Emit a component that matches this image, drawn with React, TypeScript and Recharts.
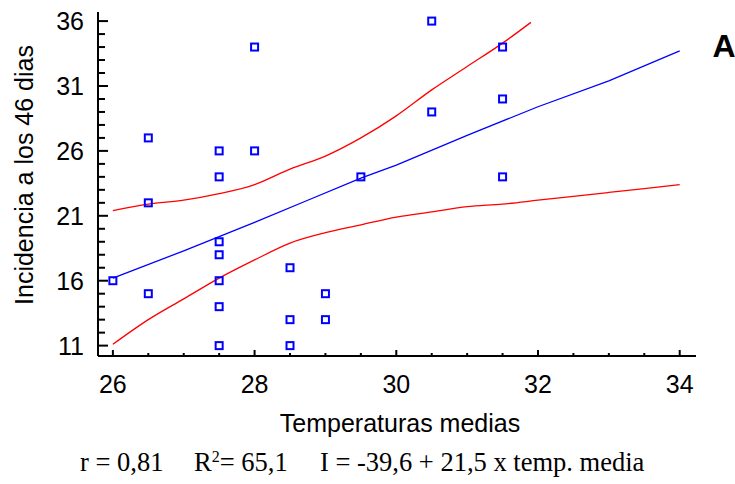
import React from 'react';
import { ComposedChart, XAxis, YAxis, Scatter, Line } from 'recharts';

// observed points: temperatura media vs incidencia a los 46 dias
const tempObs = [26, 26.5, 26.5, 26.5, 27.5, 27.5, 27.5, 27.5, 27.5, 27.5, 27.5, 28, 28, 28.5, 28.5, 28.5, 29, 29, 29.5, 30.5, 30.5, 31.5, 31.5, 31.5];
const incidObs = [16, 27, 22, 15, 26, 24, 19, 18, 16, 14, 11, 34, 26, 17, 13, 11, 15, 13, 24, 36, 29, 34, 30, 24];

// fitted line (blue)
const fitX = [26, 27, 27.5, 28, 28.75, 29.5, 30, 31, 32, 33, 34];
const fitY = [16.2, 18.3, 19.4, 20.5, 22.2, 23.9, 24.9, 27.2, 29.4, 31.4, 33.7];

// confidence limits (red)
const upperX = [26, 26.5, 27, 27.5, 28, 28.5, 29, 29.5, 30, 30.5, 31, 31.5, 31.9];
const upperY = [21.4, 21.9, 22.2, 22.7, 23.4, 24.6, 25.6, 27.0, 28.7, 30.7, 32.5, 34.3, 35.9];
const lowerX = [26, 26.5, 27, 27.5, 28, 28.5, 29, 29.5, 30, 30.5, 31, 31.5, 32, 32.5, 33, 33.5, 34];
const lowerY = [11.1, 13.0, 14.6, 16.2, 17.6, 18.9, 19.7, 20.3, 20.9, 21.3, 21.7, 21.9, 22.2, 22.5, 22.8, 23.1, 23.4];

const xTicks = [26, 26.5, 27, 27.5, 28, 28.5, 29, 29.5, 30, 30.5, 31, 31.5, 32, 32.5, 33, 33.5, 34];
const xLabels = [26, 28, 30, 32, 34];
const yTicks = [11, 12, 13, 14, 15, 16, 17, 18, 19, 20, 21, 22, 23, 24, 25, 26, 27, 28, 29, 30, 31, 32, 33, 34, 35, 36];
const yLabels = [11, 16, 21, 26, 31, 36];

const zip = (xs: number[], ys: number[]) => xs.map((x, i) => ({ x, y: ys[i] }));

const sans = '"Liberation Sans", Arial, sans-serif';
const serif = '"Liberation Serif", "Times New Roman", serif';

const YTick = (props: any) => {
  const { x, y, payload } = props;
  const major = yLabels.includes(payload.value);
  return (
    <g>
      <line x1={x} x2={x + (major ? 10 : 7)} y1={y} y2={y} stroke="#000" strokeWidth={2} />
      {major && (
        <text x={x - 14} y={y + 9} textAnchor="end" fontFamily={sans} fontSize={25} fill="#000">
          {payload.value}
        </text>
      )}
    </g>
  );
};

const XTick = (props: any) => {
  const { x, y, payload } = props;
  const major = xLabels.includes(payload.value);
  return (
    <g>
      <line x1={x} x2={x} y1={y} y2={y - (major ? 6 : 3)} stroke="#000" strokeWidth={2} />
      {major && (
        <text x={x} y={y + 37} textAnchor="middle" fontFamily={sans} fontSize={25} fill="#000">
          {payload.value}
        </text>
      )}
    </g>
  );
};

const Square = (props: any) => (
  <rect x={props.cx - 3.5} y={props.cy - 3.5} width={7} height={7} fill="none" stroke="#0000ff" strokeWidth={2} />
);

export default function App() {
  return (
    <div style={{ position: 'absolute', left: 0, top: 0, width: 735, height: 484, background: '#fff' }}>
      <ComposedChart width={735} height={484} margin={{ top: 12, right: 39, bottom: 0, left: 0 }}>
        <XAxis
          type="number"
          dataKey="x"
          domain={[25.79, 34.23]}
          ticks={xTicks}
          interval={0}
          allowDataOverflow
          height={128}
          tickSize={0}
          tickMargin={0}
          tickLine={false}
          tick={<XTick />}
          axisLine={{ stroke: '#000', strokeWidth: 2 }}
        />
        <YAxis
          type="number"
          dataKey="y"
          domain={[10.2, 36.7]}
          ticks={yTicks}
          interval={0}
          allowDataOverflow
          width={98}
          tickSize={0}
          tickMargin={0}
          tickLine={false}
          tick={<YTick />}
          axisLine={{ stroke: '#000', strokeWidth: 2 }}
        />
        <Line data={zip(upperX, upperY)} dataKey="y" type="monotone" stroke="#ff0000" strokeWidth={1.3} dot={false} isAnimationActive={false} />
        <Line data={zip(lowerX, lowerY)} dataKey="y" type="monotone" stroke="#ff0000" strokeWidth={1.3} dot={false} isAnimationActive={false} />
        <Line data={zip(fitX, fitY)} dataKey="y" type="linear" stroke="#0000ff" strokeWidth={1.3} dot={false} isAnimationActive={false} />
        <Scatter data={zip(tempObs, incidObs)} dataKey="y" shape={<Square />} isAnimationActive={false} />
      </ComposedChart>
      <svg width={735} height={484} style={{ position: 'absolute', left: 0, top: 0, pointerEvents: 'none' }}>
        <text x={33} y={175} transform="rotate(-90 33 175)" textAnchor="middle" fontFamily={sans} fontSize={25} fill="#000">
          Incidencia a los 46 dias
        </text>
        <text x={400} y={432} textAnchor="middle" fontFamily={sans} fontSize={25} fill="#000">
          Temperaturas medias
        </text>
        <text x={724} y={57} textAnchor="middle" fontFamily={sans} fontWeight="bold" fontSize={32} fill="#000">
          A
        </text>
        <text x={80} y={471} fontFamily={serif} fontSize={26.5} fill="#000">r = 0,81</text>
        <text x={194} y={471} fontFamily={serif} fontSize={26.5} fill="#000">
          R<tspan dy={-9} fontSize={16}>2</tspan>
          <tspan dy={9} fontSize={26.5}>= 65,1</tspan>
        </text>
        <text x={320} y={471} fontFamily={serif} fontSize={26.5} fill="#000">I = -39,6 + 21,5 x temp. media</text>
      </svg>
    </div>
  );
}
